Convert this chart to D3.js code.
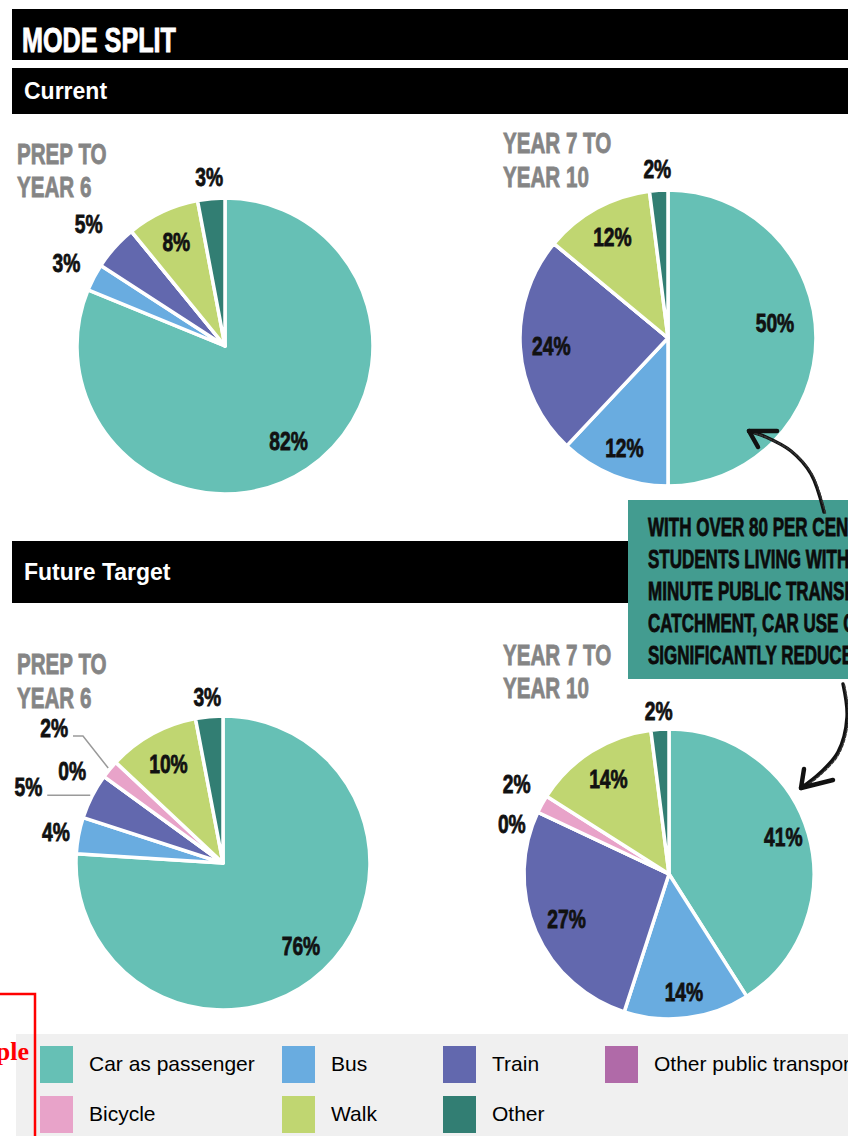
<!DOCTYPE html>
<html><head><meta charset="utf-8">
<script src="https://cdn.jsdelivr.net/npm/d3@7"></script>
<style>
html,body{margin:0;padding:0;background:#fff;overflow:hidden}
svg{display:block}
</style></head><body>
<svg id="chart" width="848" height="1136"></svg>
<script>
// ---- data ----
const categories = ["Car as passenger", "Bus", "Train", "Other public transport", "Bicycle", "Walk", "Other"];
const categoryColors = ["#66c0b5", "#69ace0", "#6268ae", "#b06aa8", "#e8a3c9", "#c0d671", "#327e73"];
const prepCurrent      = [82, 3, 5, 0, 0, 8, 3];
const secondaryCurrent = [50, 12, 24, 0, 0, 12, 2];
const prepFuture       = [76, 4, 5, 0, 2, 10, 3];
const secondaryFuture  = [41, 14, 27, 0, 2, 14, 2];
const groupTitles = [["PREP TO", "YEAR 6"], ["YEAR 7 TO", "YEAR 10"]];
const sectionTitles = ["Current", "Future Target"];
const mainTitle = "MODE SPLIT";
const calloutLines = ["WITH OVER 80 PER CENT OF", "STUDENTS LIVING WITHIN A 30", "MINUTE PUBLIC TRANSPORT", "CATCHMENT, CAR USE CAN BE", "SIGNIFICANTLY REDUCED"];

// ---- setup ----
const svg = d3.select("#chart");
const color = d3.scaleOrdinal(categories, categoryColors);
const pie = d3.pie().sort(null).value(d => d.value);
const DEG = Math.PI / 180;
const BOLD = "'Liberation Sans', Arial, sans-serif";
const polar = (cx, cy, a, rad) => [cx + rad * Math.sin(a), cy - rad * Math.cos(a)];

// horizontally compress text to imitate a condensed display face
function squeeze(sel, factor) {
  sel.each(function () {
    const len = this.getComputedTextLength();
    d3.select(this).attr("textLength", len * factor).attr("lengthAdjust", "spacingAndGlyphs");
  });
}
// heavier strokes for the display face
function heavy(sel, fill, w) {
  sel.attr("fill", fill).attr("stroke", fill).attr("stroke-width", w).attr("paint-order", "stroke");
}

// ---- header bars ----
svg.append("rect").attr("x", 12).attr("y", 9).attr("width", 836).attr("height", 51).attr("fill", "#000");
svg.append("text").attr("x", 22).attr("y", 52).text(mainTitle)
  .attr("font-family", BOLD).attr("font-weight", "bold").attr("font-size", 35)
  .call(heavy, "#fff", 0.9).call(squeeze, 0.72);

const sectionBars = [{ y: 68, h: 46, ty: 99 }, { y: 541, h: 62, ty: 580 }];
sectionBars.forEach((b, i) => {
  svg.append("rect").attr("x", 12).attr("y", b.y).attr("width", 836).attr("height", b.h).attr("fill", "#000");
  svg.append("text").attr("x", 24).attr("y", b.ty).text(sectionTitles[i])
    .attr("font-family", BOLD).attr("font-weight", "bold").attr("font-size", 23).attr("fill", "#fff");
});

// ---- pies ----
const pies = [
  { values: prepCurrent, title: groupTitles[0], cx: 225, cy: 346, r: 148, tx: 17, ty: [164, 197],
    labels: [{ i: 0, k: 0.77 }, { i: 1, out: 31 }, { i: 2, out: 35 }, { i: 5, k: 0.78 }, { i: 6, out: 22 }] },
  { values: secondaryCurrent, title: groupTitles[1], cx: 668, cy: 338, r: 148, tx: 503, ty: [153, 187],
    labels: [{ i: 0, k: 0.73, shift: -8 }, { i: 1, k: 0.8 }, { i: 2, k: 0.79 }, { i: 5, k: 0.78 }, { i: 6, out: 22 }] },
  { values: prepFuture, title: groupTitles[0], cx: 223, cy: 863, r: 147, tx: 17, ty: [674, 708],
    labels: [{ i: 0, k: 0.775 }, { i: 1, out: 23 }, { i: 2, leader: { elbow: 2, run: 43 } },
             { i: 3, out: 30, shift: -4.4 }, { i: 4, leader: { elbow: 42, run: 10, shift: 2.6 } },
             { i: 5, k: 0.77 }, { i: 6, out: 20 }] },
  { values: secondaryFuture, title: groupTitles[1], cx: 669, cy: 874, r: 145, tx: 503, ty: [665, 698],
    labels: [{ i: 0, k: 0.83, shift: -2 }, { i: 1, k: 0.82 }, { i: 2, k: 0.77 }, { i: 3, out: 20, shift: -7.5 },
             { i: 4, out: 32, shift: 1.8 }, { i: 5, k: 0.78 }, { i: 6, out: 19 }] }
];

pies.forEach(p => {
  const data = categories.map((c, i) => ({ category: c, value: p.values[i] }));
  const arcs = pie(data);
  const arc = d3.arc().innerRadius(0).outerRadius(p.r);
  const g = svg.append("g").attr("transform", `translate(${p.cx},${p.cy})`);
  g.selectAll("path").data(arcs).join("path")
    .attr("d", arc)
    .attr("fill", d => color(d.data.category))
    .attr("stroke", "#fff").attr("stroke-width", 3.5).attr("stroke-linejoin", "round");

  // group title
  p.title.forEach((line, j) => {
    svg.append("text").attr("x", p.tx).attr("y", p.ty[j]).text(line)
      .attr("font-family", BOLD).attr("font-weight", "bold").attr("font-size", 29)
      .call(heavy, "#858585", 0.8).call(squeeze, 0.71);
  });

  // value labels
  p.labels.forEach(L => {
    const a = arcs[L.i];
    const mid = (a.startAngle + a.endAngle) / 2 + (L.shift || 0) * DEG;
    const txt = a.data.value + "%";
    if (L.leader) {
      const ang = mid + (L.leader.shift || 0) * DEG;
      const s = polar(0, 0, (a.startAngle + a.endAngle) / 2, p.r + 2);
      const e = polar(0, 0, ang, p.r + L.leader.elbow);
      const end = [e[0] - L.leader.run, e[1]];
      g.append("path").attr("d", d3.line()([s, e, end]))
        .attr("fill", "none").attr("stroke", "#9a9a9a").attr("stroke-width", 1.5);
      g.append("text").attr("x", end[0] - 5).attr("y", end[1] + 1).text(txt)
        .attr("text-anchor", "end").attr("font-family", BOLD).attr("font-weight", "bold")
        .attr("font-size", 26).call(heavy, "#111", 0.8).call(squeeze, 0.74);
    } else {
      const rad = L.out != null ? p.r + L.out : p.r * L.k;
      const pt = polar(0, 0, mid, rad);
      g.append("text").attr("x", pt[0]).attr("y", pt[1]).attr("dy", "0.36em").text(txt)
        .attr("text-anchor", "middle").attr("font-family", BOLD).attr("font-weight", "bold")
        .attr("font-size", 26).call(heavy, "#111", 0.8).call(squeeze, 0.74);
    }
  });
});

// ---- callout ----
svg.append("rect").attr("x", 628).attr("y", 500).attr("width", 230).attr("height", 179).attr("fill", "#439c90");
calloutLines.forEach((line, j) => {
  svg.append("text").attr("x", 648).attr("y", 536 + j * 32).text(line)
    .attr("font-family", BOLD).attr("font-weight", "bold").attr("font-size", 25)
    .call(heavy, "#0b0b0b", 0.8).call(squeeze, 0.68);
});

// hand-drawn style arrows from the callout to the car slices
function brushArrow(points, barbs) {
  const line = d3.line().curve(d3.curveCatmullRom.alpha(0.5));
  const g = svg.append("g").attr("fill", "none").attr("stroke-linecap", "round").attr("stroke-linejoin", "round");
  g.append("path").attr("d", line(points)).attr("stroke", "#111").attr("stroke-width", 3.4);
  g.append("path").attr("d", line(points.map(q => [q[0] + 1.4, q[1] + 0.9]))).attr("stroke", "#333").attr("stroke-width", 1.6)
    .attr("stroke-dasharray", "3 2");
  const tip = points[points.length - 1];
  barbs.forEach(b => {
    g.append("path").attr("d", line([tip, b])).attr("stroke", "#111").attr("stroke-width", 4.5);
  });
}
brushArrow([[824, 512], [811, 474], [791, 451], [766, 437], [749, 431]], [[777, 431], [758, 447]]);
brushArrow([[843, 684], [847, 717], [838, 752], [820, 773], [801, 788]], [[804, 769], [833, 780]]);

// ---- legend ----
svg.append("rect").attr("x", 16).attr("y", 1034).attr("width", 832).attr("height", 102).attr("fill", "#f0f0f0");
const legendCols = [40, 282, 443, 605];
const legendRows = [1046, 1096];
const legend = svg.append("g").selectAll("g").data(categories).join("g")
  .attr("transform", (d, i) => `translate(${legendCols[i % 4]},${legendRows[Math.floor(i / 4)]})`);
legend.append("rect").attr("width", 33).attr("height", 37).attr("fill", d => color(d));
legend.append("text").attr("x", 49).attr("y", 25).text(d => d)
  .attr("font-family", "'Liberation Sans', Arial, sans-serif").attr("font-size", 21).attr("fill", "#000");

// ---- marker box at lower left ----
svg.append("path").attr("d", "M0,994H35V1136").attr("fill", "none").attr("stroke", "#f00").attr("stroke-width", 2.5);
svg.append("text").attr("x", 29).attr("y", 1060).attr("text-anchor", "end").text("Sample")
  .attr("font-family", "'Liberation Serif', 'Times New Roman', serif").attr("font-weight", "bold")
  .attr("font-size", 26).attr("fill", "#f00");
</script>
</body></html>
